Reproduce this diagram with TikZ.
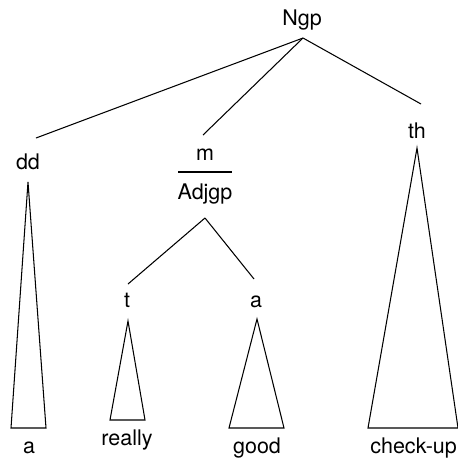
\documentclass[tikz,border=0pt]{standalone}
\usepackage{fontspec}
\setmainfont{TeX Gyre Heros}
\begin{document}
\begin{tikzpicture}[x=1pt,y=-1pt,
  lbl/.style={inner sep=0pt,anchor=base,font=\fontsize{21.5}{25}\selectfont},
  ln/.style={line width=1.05pt,line join=miter}]
\useasboundingbox (0,0) rectangle (458,458);
\clip (0,0) rectangle (458,458);
% labels
\node[lbl] (ngp) at (302,25) {Ngp};
\node[lbl] (dd) at (28,169) {dd};
\node[lbl] (m) at (205,160) {m};
\node[lbl] (adj) at (205,199) {Adjgp};
\node[lbl] (th) at (417,138) {th};
\node[lbl] (t) at (127,307) {t};
\node[lbl] (amid) at (256,307) {a};
\node[lbl] (w1) at (29,453) {a};
\node[lbl] (w2) at (127,445) {really};
\node[lbl] (w3) at (257,453) {good};
\node[lbl,anchor=base east] (w4) at (457,453) {check-up};
% coordinates
\coordinate (ngpA) at (303,38);
\coordinate (ddT) at (36,138);
\coordinate (mT) at (203,135);
\coordinate (thT) at (421,104);
\coordinate (adjA) at (205,218);
\coordinate (tT) at (128,284);
\coordinate (aT) at (254,279);
\coordinate (r1) at (178,172);
\coordinate (r2) at (232,172);
% tri apexes and bases
\coordinate (ddA) at (28,182);
\coordinate (ddL) at (11,428);
\coordinate (ddR) at (46,428);
\coordinate (tA) at (128,321);
\coordinate (tL) at (110,420);
\coordinate (tR) at (145,420);
\coordinate (aA) at (257,319);
\coordinate (aL) at (229,428);
\coordinate (aR) at (284,428);
\coordinate (thA) at (417,148);
\coordinate (thL) at (368,428);
\coordinate (thR) at (458,428);
% branches
\draw[ln] (ngpA) -- (ddT);
\draw[ln] (ngpA) -- (mT);
\draw[ln] (ngpA) -- (thT);
\draw[ln] (r1) -- (r2);
\draw[ln] (adjA) -- (tT);
\draw[ln] (adjA) -- (aT);
% triangles
\draw[ln] (ddA) -- (ddR) -- (ddL) -- cycle;
\draw[ln] (tA) -- (tR) -- (tL) -- cycle;
\draw[ln] (aA) -- (aR) -- (aL) -- cycle;
\draw[ln] (thA) -- (thR) -- (thL) -- cycle;
\end{tikzpicture}
\end{document}
